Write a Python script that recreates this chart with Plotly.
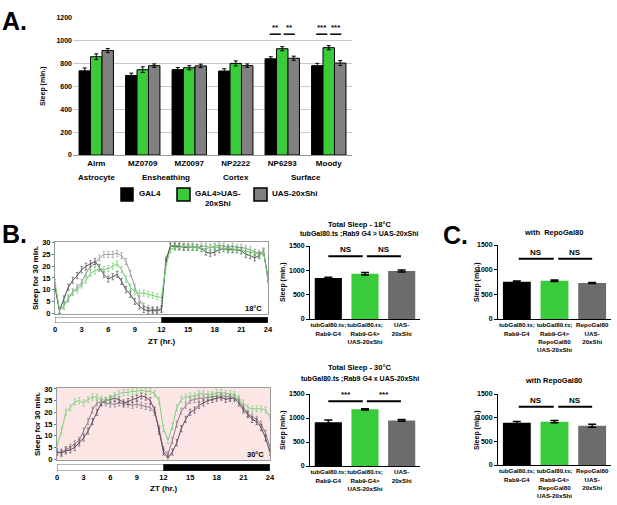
import plotly.graph_objects as go

W, H = 617, 505
def xp(px): return px / W
def yp(py): return 1 - py / H

FONT = "Liberation Sans, Arial, sans-serif"

# ---------------- Panel A data ----------------
A_CATS = ["Alrm", "MZ0709", "MZ0097", "NP2222", "NP6293", "Moody"]
A_GROUPS = [("Astrocyte", 0.0), ("Ensheathing", 1.5), ("Cortex", 3.0), ("Surface", 4.5)]
A_GAL4 = [735, 695, 745, 733, 840, 780]
A_GAL4_ERR = [25, 20, 18, 20, 18, 20]
A_SHI = [858, 745, 762, 800, 928, 937]
A_SHI_ERR = [25, 25, 18, 22, 18, 18]
A_UAS = [912, 780, 778, 780, 845, 803]
A_UAS_ERR = [18, 15, 15, 15, 18, 22]
A_TICKS = [0, 200, 400, 600, 800, 1000, 1200]
A_SIG = [(4, "**"), (5, "***")]
A_SIG_Y = 1055
A_LEGEND = ["GAL4", "GAL4>UAS-<br>20xShi", "UAS-20xShi"]

# ---------------- Panel B line data ----------------
ZT = [i * 0.5 for i in range(49)]
ZT_TICKS = [0, 3, 6, 9, 12, 15, 18, 21, 24]
LINE_TICKS = [0, 5, 10, 15, 20, 25, 30]
LIGHT_DARK = [(0, 12, "white"), (12, 24, "black")]

G18 = [13, 1.5, 3, 6.5, 9, 10, 12, 14, 17, 18, 19, 18.5, 19, 20, 21, 18.5, 14.5, 11, 9, 8.5,
       8.5, 8, 7.5, 7, 6.5, 20, 27, 28, 28, 28.5, 28, 28, 28, 27.5, 27.5, 28, 28, 28, 27.5, 27.5,
       27.5, 27, 27, 26.5, 26, 25.5, 25, 26, 14]
D18 = [11, 1, 6, 11, 14, 16, 18.5, 20, 21, 22, 19.5, 16.5, 14.5, 15.5, 16.5, 13.5, 10, 8, 5, 3,
       1.5, 1, 1, 1, 1.5, 22, 28.5, 28.5, 28.5, 28, 28, 28, 28, 27.5, 26, 25.5, 26, 27, 27.5, 27,
       27, 27, 26.5, 25, 24.5, 23.5, 24.5, 26, 15]
L18 = [12, 1, 3, 6, 9, 11, 13, 17, 20, 21, 23.5, 25, 25, 25, 25.5, 24.5, 22, 17, 11, 6,
       3, 2, 1.5, 1.5, 2, 23, 28.5, 29, 28.5, 28.5, 28.5, 28.5, 28, 28.5, 28.5, 28, 28.5, 29, 28.5, 28,
       28.5, 28, 28, 27.5, 27, 26, 25.5, 26.5, 15]

G30 = [5.5, 12, 20, 22, 24.5, 25, 24, 25.5, 26.5, 26.5, 25.5, 25, 26, 27, 28, 28.5, 28.5, 29, 29, 29.5,
       29, 29, 28, 25, 13, 8, 14, 22, 25.5, 26.5, 27, 27, 28, 28, 27.5, 27.5, 28.5, 28.5, 28, 28,
       27.5, 26, 24, 22, 21.5, 21.5, 21.5, 21, 18]
L30 = [3, 3, 4, 5, 6.5, 8, 12, 16, 21, 24, 24.5, 24, 23.5, 23.5, 24, 23.5, 23.5, 23, 23.5, 23,
       22.5, 22, 20, 13, 4, 2, 8, 15, 20.5, 23, 25, 25.5, 26, 26, 26.5, 26.5, 27, 27, 27, 26.5,
       26.5, 25, 22, 19.5, 18, 17, 15, 11, 5]
D30 = [3, 2.5, 3.5, 4, 5, 7, 9, 12, 16, 20, 24, 25, 25.5, 26, 25.5, 24, 24.5, 25.5, 26, 27,
       26.5, 25, 21, 12, 3, 0.5, 3, 7, 13, 17, 20, 21, 23, 24, 25, 25.5, 26, 26.5, 25.5, 26,
       26, 24, 21, 19, 17, 16, 13.5, 9, 3]
SEM_LINE = 1.3

# ---------------- Panel B / C bar data ----------------
B_CATS = ["tubGal80.ts;<br>Rab9-G4", "tubGal80.ts;<br>Rab9-G4><br>UAS-20xShi", "UAS-<br>20xShi"]
C_CATS = ["tubGal80.ts;<br>Rab9-G4", "tubGal80.ts;<br>Rab9-G4><br>RepoGal80<br>UAS-20xShi",
          "RepoGal80<br>UAS-<br>20xShi"]
BAR_TICKS = [0, 500, 1000, 1500]
B18_VAL = [845, 930, 985]
B18_ERR = [15, 25, 20]
B30_VAL = [910, 1180, 950]
B30_ERR = [50, 15, 20]
C18_VAL = [755, 775, 730]
C18_ERR = [15, 15, 12]
C30_VAL = [895, 915, 830]
C30_ERR = [25, 25, 30]
B18_SIG = ["NS", "NS"]
B30_SIG = ["***", "***"]
C18_SIG = ["NS", "NS"]
C30_SIG = ["NS", "NS"]
SIG_Y_B18, SIG_Y_B30, SIG_Y_C18, SIG_Y_C30 = 1290, 1350, 1220, 1230

BLACK = "#000000"
GREEN = "#3acb3a"
GRAY_A = "#808080"
GRAY_B = "#6c6c6c"

fig = go.Figure()

# ---- A bars ----
xs = list(range(len(A_CATS)))
for vals, errs, col in [(A_GAL4, A_GAL4_ERR, BLACK), (A_SHI, A_SHI_ERR, GREEN), (A_UAS, A_UAS_ERR, GRAY_A)]:
    fig.add_trace(go.Bar(x=xs, y=vals, marker=dict(color=col, line=dict(color="black", width=1)),
                         error_y=dict(type="data", array=errs, color="black", thickness=1, width=2),
                         xaxis="x", yaxis="y", showlegend=False))

# ---- B lines ----
def add_lines(series, xa, ya):
    for vals, col in series:
        fig.add_trace(go.Scatter(x=ZT, y=vals, mode="lines", line=dict(color=col, width=1),
                                 error_y=dict(type="constant", value=SEM_LINE, color=col, thickness=0.7, width=1.2),
                                 xaxis=xa, yaxis=ya, showlegend=False))

add_lines([(L18, "#9a9a9a"), (D18, "#505050"), (G18, "#6fcf6f")], "x2", "y2")
add_lines([(L30, "#8d7b8b"), (D30, "#5c4a5a"), (G30, "#7fd07f")], "x4", "y4")

# ---- ZT bars ----
for xa, ya in [("x3", "y3"), ("x5", "y5")]:
    fig.add_trace(go.Bar(y=[0] * len(LIGHT_DARK), x=[b - a for a, b, c in LIGHT_DARK],
                         base=[a for a, b, c in LIGHT_DARK], orientation="h", width=[1] * len(LIGHT_DARK),
                         marker=dict(color=[c for a, b, c in LIGHT_DARK], line=dict(color="#444", width=0.8)),
                         xaxis=xa, yaxis=ya, showlegend=False))

# ---- B/C bars ----
def add_bars(vals, errs, colors, xa, ya):
    fig.add_trace(go.Bar(x=[0, 1, 2], y=vals, marker=dict(color=colors, line=dict(width=0)),
                         error_y=dict(type="data", array=errs, color="black", thickness=1.5, width=4),
                         xaxis=xa, yaxis=ya, showlegend=False))

COLS3 = [BLACK, GREEN, GRAY_B]
add_bars(B18_VAL, B18_ERR, COLS3, "x6", "y6")
add_bars(B30_VAL, B30_ERR, COLS3, "x7", "y7")
add_bars(C18_VAL, C18_ERR, COLS3, "x8", "y8")
add_bars(C30_VAL, C30_ERR, COLS3, "x9", "y9")

tf = lambda s: dict(family=FONT, size=s, color="black", weight="bold")

layout = dict(
    width=W, height=H, margin=dict(l=0, r=0, t=0, b=0, autoexpand=False),
    paper_bgcolor="white", plot_bgcolor="white",
    barmode="group", bargap=0.26, bargroupgap=0, showlegend=False,
    font=dict(family=FONT, color="black"),
)

# A axes
layout["xaxis"] = dict(domain=[xp(73), xp(352)], range=[-0.5, 5.5], tickvals=xs, ticktext=A_CATS,
                       tickfont=tf(8), showline=True, linecolor="#999", linewidth=1, ticks="",
                       anchor="y", showgrid=False, zeroline=False, automargin=False, tickangle=0)
layout["yaxis"] = dict(domain=[yp(155), yp(17)], range=[0, 1205], tickvals=A_TICKS, tickfont=tf(7),
                       showgrid=True, gridcolor="#c8c8c8", gridwidth=1, zeroline=False, showline=False,
                       ticks="", anchor="x", automargin=False)

# Line plot axes
def line_axes(n, xdom, ydom, yrange):
    layout[f"xaxis{n}"] = dict(domain=xdom, range=[0, 24], showticklabels=False, ticks="",
                               showgrid=False, zeroline=False, showline=True, linecolor="#9a9a9a",
                               linewidth=1, mirror=True, anchor=f"y{n}", automargin=False)
    layout[f"yaxis{n}"] = dict(domain=ydom, range=yrange, tickvals=LINE_TICKS,
                               tickfont=tf(7.5), showgrid=False, zeroline=False, showline=True,
                               linecolor="#9a9a9a", linewidth=1, mirror=True, ticks="outside",
                               ticklen=2, tickcolor="#777", anchor=f"x{n}", automargin=False)

def zt_axes(n, xdom, ydom):
    layout[f"xaxis{n}"] = dict(domain=xdom, range=[0, 24], tickvals=ZT_TICKS, tickfont=tf(7.5),
                               ticks="", showgrid=False,
                               zeroline=False, showline=False, anchor=f"y{n}", automargin=False,
                               tickangle=0)
    layout[f"yaxis{n}"] = dict(domain=ydom, range=[-0.5, 0.5], visible=False, anchor=f"x{n}",
                               automargin=False)

line_axes(2, [xp(55), xp(268)], [yp(314), yp(242)], [-0.4, 30.3])
zt_axes(3, [xp(55), xp(268)], [yp(323), yp(317)])
line_axes(4, [xp(57), xp(270)], [yp(460), yp(388)], [-0.4, 30.4])
zt_axes(5, [xp(57), xp(270)], [yp(471), yp(464)])

def bar_axes(n, xdom, ydom, cats):
    layout[f"xaxis{n}"] = dict(domain=xdom, range=[-0.5, 2.5], tickvals=[0, 1, 2], ticktext=cats,
                               tickfont=tf(6.2), showline=True, linecolor="black", linewidth=1,
                               ticks="", showgrid=False, zeroline=False, anchor=f"y{n}",
                               tickangle=0, automargin=False)
    layout[f"yaxis{n}"] = dict(domain=ydom, range=[0, 1500], tickvals=BAR_TICKS,
                               tickfont=tf(7), showline=True, linecolor="black", linewidth=1,
                               ticks="outside", ticklen=3, tickwidth=1, tickcolor="black",
                               showgrid=False, zeroline=False, anchor=f"x{n}", automargin=False)

bar_axes(6, [xp(310), xp(420)], [yp(319), yp(246)], B_CATS)
bar_axes(7, [xp(310), xp(420)], [yp(466), yp(394)], B_CATS)
bar_axes(8, [xp(498), xp(611)], [yp(319), yp(245)], C_CATS)
bar_axes(9, [xp(498), xp(611)], [yp(465), yp(394)], C_CATS)

fig.update_layout(**layout)

shapes = []
ann = []

def text(x, y, s, size, xanchor="center", yanchor="middle", angle=0, align="center", xref="paper", yref="paper", weight="bold"):
    ann.append(dict(x=x, y=y, xref=xref, yref=yref, text=s, showarrow=False, xanchor=xanchor,
                    yanchor=yanchor, textangle=angle, align=align,
                    font=dict(family=FONT, size=size, color="black", weight=weight)))

# panel letters
text(xp(0), yp(21), "A.", 25, xanchor="left")
text(xp(0), yp(234), "B.", 25, xanchor="left")
text(xp(441), yp(235), "C.", 25, xanchor="left")

# A annotations
text(xp(43), yp(86), "Sleep (min.)", 7, angle=-90)
for name, pos in A_GROUPS:
    text(pos, yp(177), name, 8, xref="x")
for idx, stars in A_SIG:
    for a, b in [(idx - 0.27, idx - 0.03), (idx + 0.03, idx + 0.27)]:
        shapes.append(dict(type="line", xref="x", yref="y", x0=a, x1=b, y0=A_SIG_Y, y1=A_SIG_Y,
                           line=dict(color="black", width=1.5)))
        text((a + b) / 2, A_SIG_Y, stars, 8, yanchor="bottom", xref="x", yref="y")

# A legend
for (x0, x1), col, lbl, tx in zip([(121, 133), (177, 190), (254, 267)], [BLACK, GREEN, GRAY_A], A_LEGEND, [137, 193, 270]):
    shapes.append(dict(type="rect", xref="paper", yref="paper", x0=xp(x0), x1=xp(x1), y0=yp(201), y1=yp(188),
                       fillcolor=col, line=dict(color="black", width=1.5)))
    text(xp(tx), yp(187), lbl, 8, xanchor="left", yanchor="top")

# B line annotations
text(xp(35), yp(278), "Sleep for 30 min.", 8, angle=-90)
text(xp(37), yp(424), "Sleep for 30 min.", 8, angle=-90)
text(xp(161), yp(341), "ZT (hr.)", 8)
text(xp(163), yp(488), "ZT (hr.)", 8)
text(xp(264), yp(308), "18°C", 7.5, xanchor="right")
text(xp(266), yp(454), "30°C", 7.5, xanchor="right")
shapes.append(dict(type="rect", xref="x4 domain", yref="y4 domain", x0=0, x1=1, y0=0, y1=1,
                   fillcolor="#fbe5e5", line=dict(width=0), layer="below"))

# B / C bar annotations
text(xp(360), yp(225), "Total Sleep - 18°C", 7.5)
text(xp(360), yp(234), "tubGal80.ts ;Rab9 G4 > UAS-20xShi", 7)
text(xp(360), yp(367), "Total Sleep - 30°C", 7.5)
text(xp(360), yp(379), "tubGal80.ts ;Rab9 G4 x UAS-20xShi", 7)
text(xp(553), yp(233), "with  RepoGal80", 7.5)
text(xp(553), yp(380), "with RepoGal80", 7.5)
for px_, py_ in [(283, 282), (283, 430), (477, 282), (477, 430)]:
    text(xp(px_), yp(py_), "Sleep (min.)", 7, angle=-90)

def sig(n, labels, yv, segs):
    for (a, b), s in zip(segs, labels):
        shapes.append(dict(type="line", xref=f"x{n}", yref=f"y{n}", x0=a, x1=b, y0=yv, y1=yv,
                           line=dict(color="black", width=2)))
        text((a + b) / 2, yv, s, 8, yanchor="bottom", xref=f"x{n}", yref=f"y{n}")

sig(6, B18_SIG, SIG_Y_B18, [(0.0, 0.94), (1.05, 1.98)])
sig(7, B30_SIG, SIG_Y_B30, [(0.0, 0.94), (1.05, 1.98)])
sig(8, C18_SIG, SIG_Y_C18, [(0.05, 0.98), (1.1, 2.0)])
sig(9, C30_SIG, SIG_Y_C30, [(0.05, 0.98), (1.1, 2.0)])

fig.update_layout(shapes=shapes, annotations=ann)
fig.write_html("out.html", config={"displayModeBar": False})

# remove the browser's default page margin so the figure sits at the window origin
with open("out.html", "r", encoding="utf-8") as f:
    html = f.read()
html = html.replace("<head>", "<head><style>html,body{margin:0;padding:0;overflow:hidden;}</style>", 1)
with open("out.html", "w", encoding="utf-8") as f:
    f.write(html)
